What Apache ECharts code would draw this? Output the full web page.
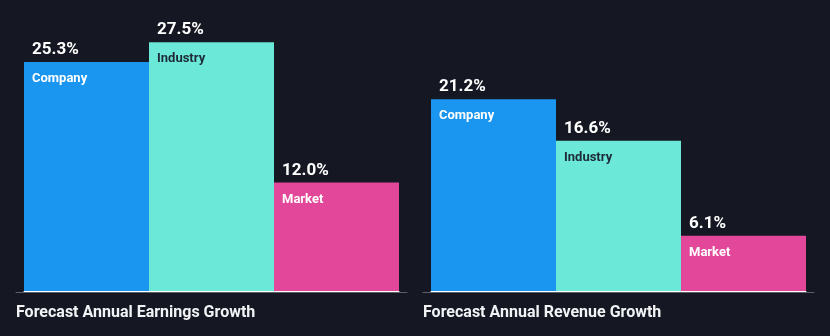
<!DOCTYPE html>
<html>
<head>
<meta charset="utf-8">
<script src="https://cdn.jsdelivr.net/npm/echarts@6/dist/echarts.min.js"></script>
<style>
html,body{margin:0;padding:0;background:#151823;}
#c{width:830px;height:336px;}
</style>
</head>
<body>
<div id="c"></div>
<script>
const categories = ['Company', 'Industry', 'Market'];
const earningsGrowth = [25.3, 27.5, 12.0];
const revenueGrowth = [21.2, 16.6, 6.1];
const titles = ['Forecast Annual Earnings Growth', 'Forecast Annual Revenue Growth'];
const barColors = ['#1b96f0', '#6be8d7', '#e2479a'];
const nameColors = ['#ffffff', '#1e2a38', '#ffffff'];

const chart = echarts.init(document.getElementById('c'), null, {renderer: 'canvas'});
const FONT = 'Roboto';

function makeData(values) {
  return values.map((v, i) => ({
    value: v,
    itemStyle: {color: barColors[i]},
    label: {
      formatter: '{v|' + v.toFixed(1) + '%}\n{n|' + categories[i] + '}',
      rich: {
        v: {fontFamily: FONT, fontSize: 17, fontWeight: 'bold', color: '#ffffff', lineHeight: 24},
        n: {fontFamily: FONT, fontSize: 13, fontWeight: 'bold', color: nameColors[i], lineHeight: 34}
      }
    }
  }));
}

const barGrids = [
  {left: 24, width: 375, top: 19.5, bottom: 45},
  {left: 431, width: 375, top: 19.5, bottom: 45}
];
const lineGrids = [
  {left: 16, width: 391, top: 19.5, bottom: 44},
  {left: 423, width: 391, top: 19.5, bottom: 44}
];

const option = {
  backgroundColor: '#151823',
  animation: false,
  title: titles.map((t, i) => ({
    text: t,
    left: i === 0 ? 16 : 423,
    top: 305,
    padding: 0,
    textStyle: {fontFamily: FONT, fontSize: 16, fontWeight: 'bold', color: '#f2f3f5'}
  })),
  grid: [...lineGrids, ...barGrids],
  xAxis: [
    {gridIndex: 0, type: 'category', data: [''], axisLine: {lineStyle: {color: '#5c6068', width: 1}}, axisTick: {show: false}, axisLabel: {show: false}},
    {gridIndex: 1, type: 'category', data: [''], axisLine: {lineStyle: {color: '#5c6068', width: 1}}, axisTick: {show: false}, axisLabel: {show: false}},
    {gridIndex: 2, type: 'category', data: categories, axisLine: {lineStyle: {color: '#ffffff', width: 1}}, axisTick: {show: false}, axisLabel: {show: false}},
    {gridIndex: 3, type: 'category', data: categories, axisLine: {lineStyle: {color: '#ffffff', width: 1}}, axisTick: {show: false}, axisLabel: {show: false}}
  ],
  yAxis: [0, 1, 2, 3].map(g => ({
    gridIndex: g, type: 'value', min: 0, max: 30, show: false, splitLine: {show: false}
  })),
  series: [
    {
      type: 'bar', xAxisIndex: 2, yAxisIndex: 2, barCategoryGap: 0,
      data: makeData(earningsGrowth),
      label: {show: true, position: [8, -24], align: 'left', verticalAlign: 'top'}
    },
    {
      type: 'bar', xAxisIndex: 3, yAxisIndex: 3, barCategoryGap: 0,
      data: makeData(revenueGrowth),
      label: {show: true, position: [8, -24], align: 'left', verticalAlign: 'top'}
    }
  ]
};
chart.setOption(option);
</script>
</body>
</html>
